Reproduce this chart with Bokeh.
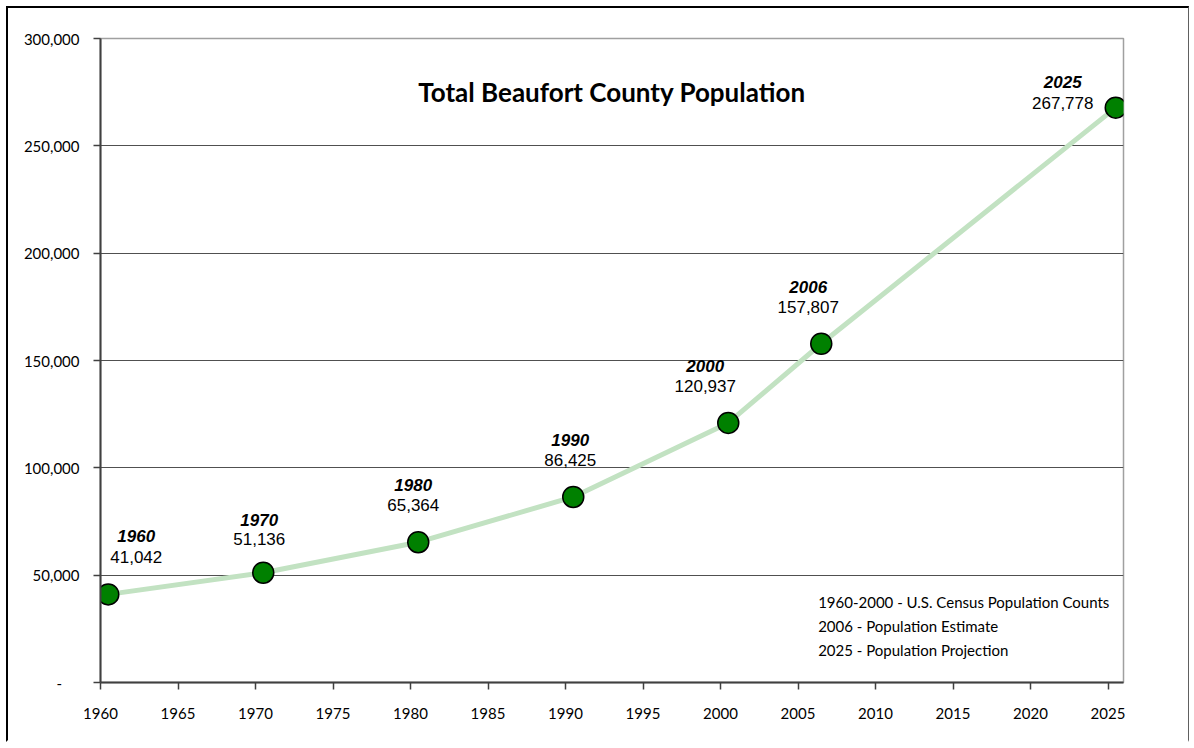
from bokeh.plotting import figure
from bokeh.models import Range1d, FixedTicker, NumeralTickFormatter, ColumnDataSource, Label
from bokeh.core.properties import value
from bokeh.embed import file_html
from bokeh.resources import INLINE

# ---- data ----
years = [1960, 1970, 1980, 1990, 2000, 2006, 2025]
population = [41042, 51136, 65364, 86425, 120937, 157807, 267778]
year_labels = ["1960", "1970", "1980", "1990", "2000", "2006", "2025"]
value_labels = ["41,042", "51,136", "65,364", "86,425", "120,937", "157,807", "267,778"]
title_text = "Total Beaufort County Population"
notes = ["1960-2000 - U.S. Census Population Counts",
         "2006 - Population Estimate",
         "2025 - Population Projection"]
x_ticks = list(range(1960, 2030, 5))
y_ticks = list(range(0, 300001, 50000))

# ---- layout (label offsets in pixels, upward positive) ----
lab_dx = [28, -4, -5, -3, -23, -13, -53]
val_dy = [37, 34, 37, 37, 37, 37, 5]
yr_dy = [58, 53, 57, 57, 57, 57, 26]

xs = [y + 0.5 for y in years]  # mid-year positions

p = figure(width=1183, height=736, output_backend="svg", toolbar_location=None,
           x_range=Range1d(1960, 2026), y_range=Range1d(0, 300000),
           min_border_left=92, min_border_top=30, min_border_right=68, min_border_bottom=62)
p.styles = {"border-left": "2px solid black", "border-top": "2px solid black",
            "border-right": "1.5px solid #606060", "border-bottom": "2px solid white",
            "margin": "6px"}
p.background_fill_color = "white"
p.border_fill_color = "white"
p.outline_line_color = "#a0a0a0"
p.outline_line_width = 1.5

# axes
p.xaxis.ticker = FixedTicker(ticks=x_ticks)
p.yaxis.ticker = FixedTicker(ticks=y_ticks)
p.yaxis.formatter = NumeralTickFormatter(format="0,0")
p.yaxis.major_label_overrides = {0: "-\u2007\u2007"}
for ax in (p.xaxis[0], p.yaxis[0]):
    ax.axis_line_color = "#404040"
    ax.axis_line_width = 2
    ax.major_tick_line_color = "#404040"
    ax.major_tick_line_width = 1.5
    ax.major_tick_in = 0
    ax.major_tick_out = 7
    ax.minor_tick_line_color = None
    ax.major_label_text_font = "Lato"
    ax.major_label_text_font_size = "15px"
    ax.major_label_text_color = "#000000"
p.xaxis.major_label_standoff = 18
p.yaxis.major_label_standoff = 14

p.xgrid.grid_line_color = None
p.ygrid.ticker = FixedTicker(ticks=y_ticks[1:-1])
p.ygrid.grid_line_color = "#505050"
p.ygrid.grid_line_width = 1

src = ColumnDataSource(dict(x=xs, y=population, yl=year_labels, vl=value_labels,
                            dx=lab_dx, vdy=[-v for v in val_dy], ydy=[-v for v in yr_dy]))

p.line("x", "y", source=src, line_color="#c2e2c2", line_width=5)
p.scatter("x", "y", source=src, size=21, fill_color="#008000", line_color="black", line_width=1.5)

p.text("x", "y", text="yl", source=src, x_offset="dx", y_offset="ydy",
       text_font=value("Liberation Sans"), text_font_style="bold italic",
       text_font_size="17px", text_align="center", text_baseline="middle", text_color="black")
p.text("x", "y", text="vl", source=src, x_offset="dx", y_offset="vdy",
       text_font=value("Liberation Sans"), text_font_size="17px",
       text_align="center", text_baseline="middle", text_color="black")

p.add_layout(Label(x=1993, y=275300, text=title_text, text_font="Lato", text_font_style="bold",
                   text_font_size="26px", text_align="center", text_baseline="middle",
                   text_color="black"))
for i, t in enumerate(notes):
    p.add_layout(Label(x=2006.3, y=37700 - i * 11180, text=t, text_font="Lato",
                       text_font_size="15px", text_align="left", text_baseline="middle",
                       text_color="black"))

open("out.html", "w").write(file_html(p, INLINE))
